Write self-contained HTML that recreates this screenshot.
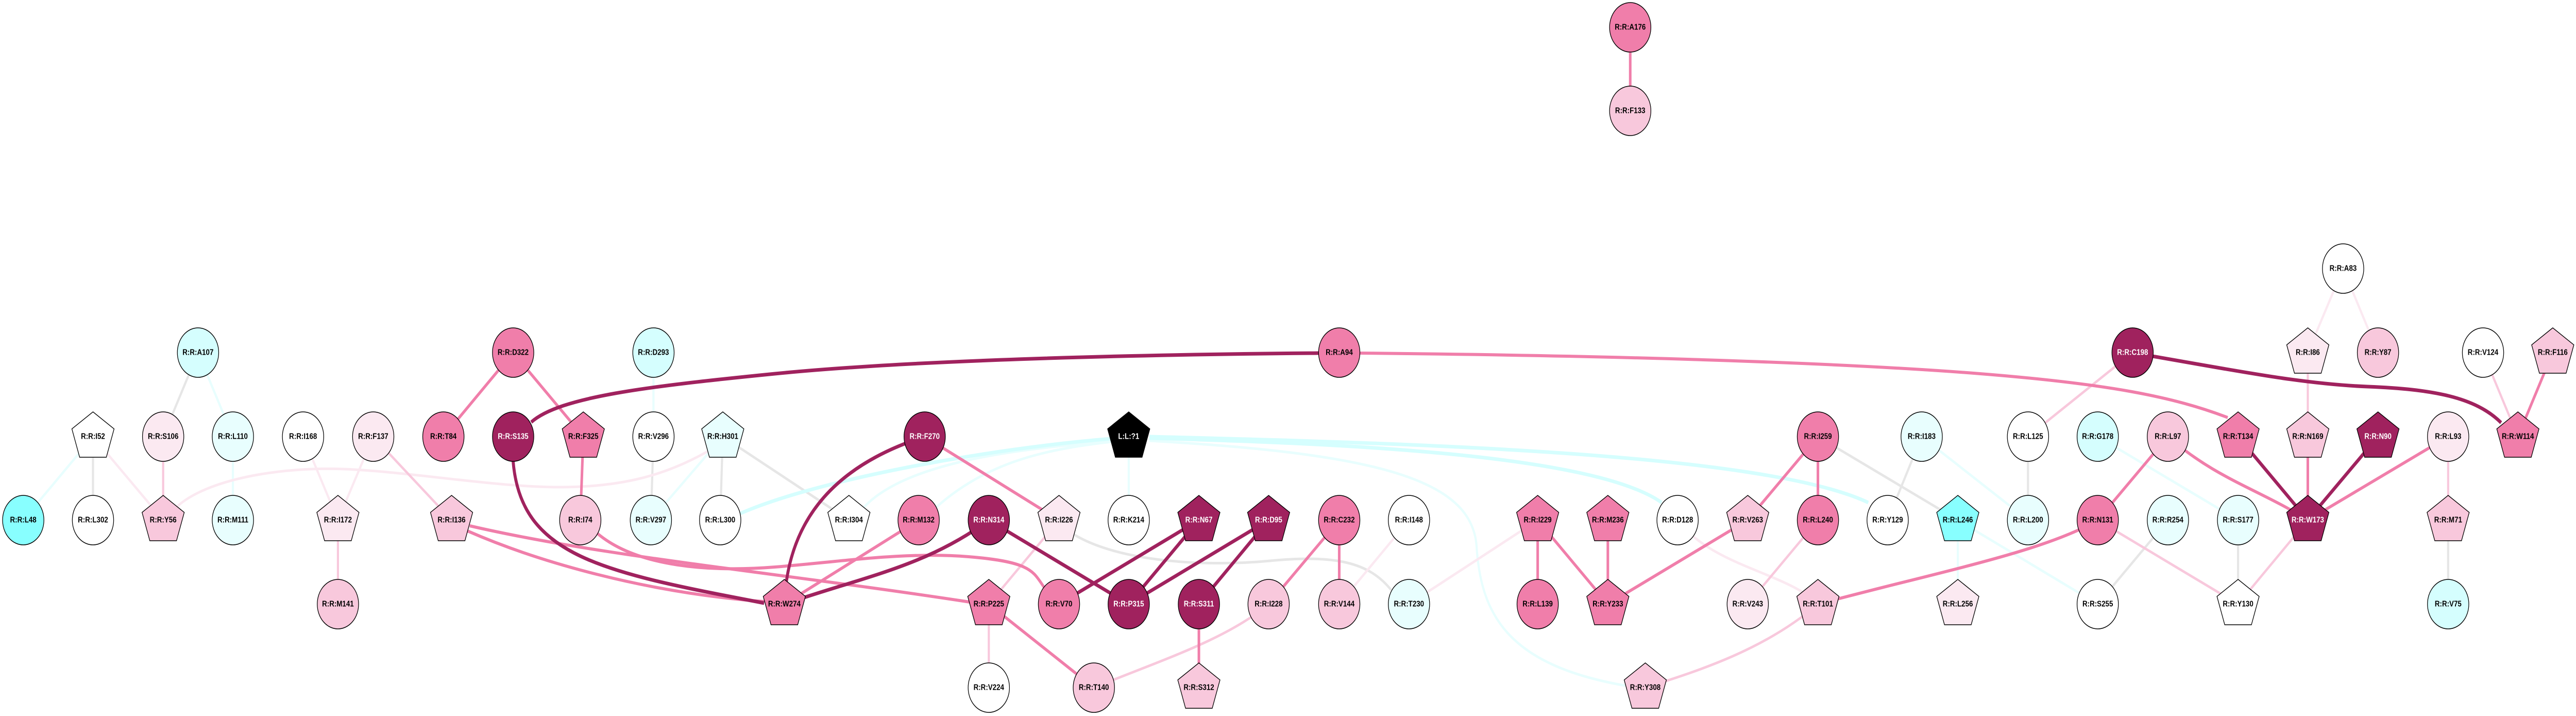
<!DOCTYPE html>
<html><head><meta charset="utf-8"><style>
html,body{margin:0;padding:0;background:#fff;width:100%;height:100%;overflow:hidden;}
svg{display:block;width:100vw;height:100vh;}
text{font-family:"Liberation Sans",sans-serif;font-weight:bold;font-size:16px;text-anchor:middle;dominant-baseline:central;}
</style></head><body>
<svg viewBox="0 0 5984 1389" preserveAspectRatio="none" xmlns="http://www.w3.org/2000/svg">
<defs>
<polygon id="pent" points="0,-48 49,-15 31,40 -31,40 -49,-15"/>
</defs>
<g fill="none" stroke-linecap="butt">
<g stroke="#E6E6E6" stroke-width="5">
<line x1="216" y1="847" x2="216" y2="1009"/>
<line x1="460" y1="684" x2="379" y2="847"/>
<line x1="1518" y1="847" x2="1512" y2="1009"/>
<line x1="1679" y1="847" x2="1673" y2="1009"/>
<line x1="1679" y1="847" x2="1972" y2="1009"/>
<line x1="4223" y1="847" x2="4548" y2="1009"/>
<line x1="4464" y1="847" x2="4385" y2="1009"/>
<line x1="4711" y1="847" x2="4711" y2="1009"/>
<line x1="5036" y1="1009" x2="4873" y2="1172"/>
<line x1="5199" y1="1009" x2="5199" y2="1172"/>
<line x1="5687" y1="1009" x2="5687" y2="1172"/>
<path d="M2495,1037 C2600,1090 2800,1100 2950,1088 S3180,1090 3232,1145"/>
</g>
<g stroke="#E8FEFE" stroke-width="5">
<line x1="216" y1="847" x2="54" y2="1009"/>
<line x1="460" y1="684" x2="541" y2="847"/>
<line x1="541" y1="847" x2="541" y2="1009"/>
<line x1="1518" y1="684" x2="1518" y2="847"/>
<line x1="1679" y1="847" x2="1512" y2="1009"/>
<line x1="2622" y1="847" x2="2622" y2="1009"/>
<line x1="4464" y1="847" x2="4711" y2="1009"/>
<line x1="4873" y1="847" x2="5199" y2="1009"/>
<line x1="4548" y1="1009" x2="4548" y2="1172"/>
<line x1="4548" y1="1009" x2="4873" y2="1172"/>
<path d="M2007,984 C2100,900 2350,870 2581,857"/>
<path d="M2175,984 C2300,890 2450,870 2581,857"/>
<path d="M2670,855 C3200,880 3420,930 3430,1060 S3500,1290 3775,1330"/>
</g>
<g stroke="#D5FEFE" stroke-width="7">
<path d="M1720,996 C1900,930 2300,870 2581,851"/>
<path d="M2670,850 C3100,860 3700,880 3860,975"/>
<path d="M2670,847 C3300,860 4100,880 4340,975"/>
</g>
<g stroke="#FBE9F1" stroke-width="5">
<line x1="216" y1="847" x2="379" y2="1009"/>
<line x1="704" y1="847" x2="785" y2="1009"/>
<line x1="867" y1="847" x2="785" y2="1009"/>
<line x1="3273" y1="1009" x2="3111" y2="1172"/>
<line x1="3273" y1="1172" x2="3572" y2="1009"/>
<path d="M3897,1009 C3980,1100 4150,1110 4223,1172"/>
<line x1="5443" y1="521" x2="5361" y2="684"/>
<line x1="5443" y1="521" x2="5524" y2="684"/>
<path d="M411,983 C480,930 650,905 800,910 S1150,945 1300,945 S1550,920 1643,876"/>
</g>
<g stroke="#F8C8DC" stroke-width="5">
<line x1="379" y1="847" x2="379" y2="1009"/>
<line x1="867" y1="847" x2="1049" y2="1009"/>
<line x1="785" y1="1009" x2="785" y2="1172"/>
<line x1="2460" y1="1009" x2="2297" y2="1172"/>
<line x1="2297" y1="1172" x2="2297" y2="1334"/>
<path d="M2947,1172 C2850,1240 2700,1280 2541,1334"/>
<line x1="4223" y1="1009" x2="4060" y2="1172"/>
<path d="M4223,1172 C4100,1260 3950,1300 3822,1334"/>
<line x1="4954" y1="684" x2="4711" y2="847"/>
<line x1="5361" y1="684" x2="5361" y2="847"/>
<line x1="5687" y1="847" x2="5687" y2="1009"/>
<line x1="5768" y1="684" x2="5849" y2="847"/>
<line x1="4873" y1="1009" x2="5199" y2="1172"/>
<line x1="5361" y1="1009" x2="5199" y2="1172"/>
</g>
<g stroke="#F07EAA" stroke-width="6">
<line x1="3787" y1="53" x2="3787" y2="215"/>
<line x1="1192" y1="684" x2="1030" y2="847"/>
<line x1="1192" y1="684" x2="1355" y2="847"/>
<line x1="1355" y1="847" x2="1348" y2="1009"/>
<line x1="2148" y1="847" x2="2460" y2="1009"/>
<line x1="2134" y1="1009" x2="1822" y2="1172"/>
<line x1="2297" y1="1172" x2="2541" y2="1334"/>
<line x1="2785" y1="1172" x2="2785" y2="1334"/>
<line x1="3111" y1="1009" x2="2947" y2="1172"/>
<line x1="3111" y1="1009" x2="3111" y2="1172"/>
<line x1="3572" y1="1009" x2="3572" y2="1172"/>
<line x1="3572" y1="1009" x2="3735" y2="1172"/>
<line x1="3735" y1="1009" x2="3735" y2="1172"/>
<line x1="4060" y1="1009" x2="3735" y2="1172"/>
<line x1="4223" y1="847" x2="4060" y2="1009"/>
<line x1="4223" y1="847" x2="4223" y2="1009"/>
<path d="M4223,1172 C4500,1110 4750,1070 4873,1009"/>
<line x1="5036" y1="847" x2="4873" y2="1009"/>
<path d="M5036,847 C5150,930 5250,950 5361,1009"/>
<line x1="5361" y1="847" x2="5361" y2="1009"/>
<line x1="5687" y1="847" x2="5361" y2="1009"/>
<line x1="5930" y1="684" x2="5849" y2="847"/>
<path d="M1091,1020 C1400,1080 1800,1110 2253,1168"/>
<path d="M1086,1030 C1250,1090 1500,1150 1775,1167"/>
<path d="M1388,1035 C1480,1100 1650,1110 1800,1100 S2100,1070 2250,1080 S2400,1110 2426,1140"/>
<path d="M3158,685 C3800,690 4300,705 4600,725 S5050,770 5175,810"/>
</g>
<g stroke="#A0225E" stroke-width="7">
<line x1="2297" y1="1009" x2="2622" y2="1172"/>
<path d="M2297,1009 C2150,1100 2000,1120 1822,1172"/>
<line x1="2785" y1="1009" x2="2460" y2="1172"/>
<line x1="2785" y1="1009" x2="2622" y2="1172"/>
<line x1="2947" y1="1009" x2="2622" y2="1172"/>
<line x1="2947" y1="1009" x2="2785" y2="1172"/>
<line x1="5199" y1="847" x2="5361" y2="1009"/>
<line x1="5524" y1="847" x2="5361" y2="1009"/>
<path d="M2148,847 C1950,900 1830,1000 1822,1172"/>
<path d="M1192,895 C1210,1080 1400,1110 1775,1170"/>
<path d="M1234,819 C1300,770 1500,750 1800,725 S2600,688 3063,685"/>
<path d="M5000,691 C5200,720 5350,745 5500,750 S5750,770 5810,820"/>
</g>
</g>
<g stroke="#000" stroke-width="1.5">
<circle cx="3787" cy="53" r="48" fill="#F07EAA"/><text x="3787" y="53" stroke="none">R:R:A176</text>
<circle cx="3787" cy="215" r="48" fill="#F8C8DC"/><text x="3787" y="215" stroke="none">R:R:F133</text>
<circle cx="5443" cy="521" r="48" fill="#FFFFFF"/><text x="5443" y="521" stroke="none">R:R:A83</text>
<use href="#pent" x="5361" y="684" fill="#FBE9F1"/><text x="5361" y="684" stroke="none">R:R:I86</text>
<circle cx="5524" cy="684" r="48" fill="#F8C8DC"/><text x="5524" y="684" stroke="none">R:R:Y87</text>
<circle cx="5768" cy="684" r="48" fill="#FFFFFF"/><text x="5768" y="684" stroke="none">R:R:V124</text>
<use href="#pent" x="5930" y="684" fill="#F8C8DC"/><text x="5930" y="684" stroke="none">R:R:F116</text>
<circle cx="4954" cy="684" r="48" fill="#A0225E"/><text x="4954" y="684" stroke="none" fill="#fff">R:R:C198</text>
<circle cx="460" cy="684" r="48" fill="#D5FEFE"/><text x="460" y="684" stroke="none">R:R:A107</text>
<circle cx="1192" cy="684" r="48" fill="#F07EAA"/><text x="1192" y="684" stroke="none">R:R:D322</text>
<circle cx="1518" cy="684" r="48" fill="#D5FEFE"/><text x="1518" y="684" stroke="none">R:R:D293</text>
<circle cx="3111" cy="684" r="48" fill="#F07EAA"/><text x="3111" y="684" stroke="none">R:R:A94</text>

<use href="#pent" x="216" y="847" fill="#FFFFFF"/><text x="216" y="847" stroke="none">R:R:I52</text>
<circle cx="379" cy="847" r="48" fill="#FBE9F1"/><text x="379" y="847" stroke="none">R:R:S106</text>
<circle cx="541" cy="847" r="48" fill="#E8FEFE"/><text x="541" y="847" stroke="none">R:R:L110</text>
<circle cx="704" cy="847" r="48" fill="#FFFFFF"/><text x="704" y="847" stroke="none">R:R:I168</text>
<circle cx="867" cy="847" r="48" fill="#FBE9F1"/><text x="867" y="847" stroke="none">R:R:F137</text>
<circle cx="1030" cy="847" r="48" fill="#F07EAA"/><text x="1030" y="847" stroke="none">R:R:T84</text>
<circle cx="1192" cy="847" r="48" fill="#A0225E"/><text x="1192" y="847" stroke="none" fill="#fff">R:R:S135</text>
<use href="#pent" x="1355" y="847" fill="#F07EAA"/><text x="1355" y="847" stroke="none">R:R:F325</text>
<circle cx="1518" cy="847" r="48" fill="#FFFFFF"/><text x="1518" y="847" stroke="none">R:R:V296</text>
<use href="#pent" x="1679" y="847" fill="#E8FEFE"/><text x="1679" y="847" stroke="none">R:R:H301</text>
<circle cx="2148" cy="847" r="48" fill="#A0225E"/><text x="2148" y="847" stroke="none" fill="#fff">R:R:F270</text>
<use href="#pent" x="2622" y="847" fill="#000000"/><text x="2622" y="847" stroke="none" fill="#fff">L:L:?1</text>
<circle cx="4223" cy="847" r="48" fill="#F07EAA"/><text x="4223" y="847" stroke="none">R:R:I259</text>
<circle cx="4464" cy="847" r="48" fill="#E8FEFE"/><text x="4464" y="847" stroke="none">R:R:I183</text>
<circle cx="4711" cy="847" r="48" fill="#FFFFFF"/><text x="4711" y="847" stroke="none">R:R:L125</text>
<circle cx="4873" cy="847" r="48" fill="#D5FEFE"/><text x="4873" y="847" stroke="none">R:R:G178</text>
<circle cx="5036" cy="847" r="48" fill="#F8C8DC"/><text x="5036" y="847" stroke="none">R:R:L97</text>
<use href="#pent" x="5199" y="847" fill="#F07EAA"/><text x="5199" y="847" stroke="none">R:R:T134</text>
<use href="#pent" x="5361" y="847" fill="#F8C8DC"/><text x="5361" y="847" stroke="none">R:R:N169</text>
<use href="#pent" x="5524" y="847" fill="#A0225E"/><text x="5524" y="847" stroke="none" fill="#fff">R:R:N90</text>
<circle cx="5687" cy="847" r="48" fill="#FBE9F1"/><text x="5687" y="847" stroke="none">R:R:L93</text>
<use href="#pent" x="5849" y="847" fill="#F07EAA"/><text x="5849" y="847" stroke="none">R:R:W114</text>

<circle cx="54" cy="1009" r="48" fill="#88FFFF"/><text x="54" y="1009" stroke="none">R:R:L48</text>
<circle cx="216" cy="1009" r="48" fill="#FFFFFF"/><text x="216" y="1009" stroke="none">R:R:L302</text>
<use href="#pent" x="379" y="1009" fill="#F8C8DC"/><text x="379" y="1009" stroke="none">R:R:Y56</text>
<circle cx="541" cy="1009" r="48" fill="#E8FEFE"/><text x="541" y="1009" stroke="none">R:R:M111</text>
<use href="#pent" x="785" y="1009" fill="#FBE9F1"/><text x="785" y="1009" stroke="none">R:R:I172</text>
<use href="#pent" x="1049" y="1009" fill="#F8C8DC"/><text x="1049" y="1009" stroke="none">R:R:I136</text>
<circle cx="1348" cy="1009" r="48" fill="#F8C8DC"/><text x="1348" y="1009" stroke="none">R:R:I74</text>
<circle cx="1512" cy="1009" r="48" fill="#E8FEFE"/><text x="1512" y="1009" stroke="none">R:R:V297</text>
<circle cx="1673" cy="1009" r="48" fill="#FFFFFF"/><text x="1673" y="1009" stroke="none">R:R:L300</text>
<use href="#pent" x="1972" y="1009" fill="#FFFFFF"/><text x="1972" y="1009" stroke="none">R:R:I304</text>
<circle cx="2134" cy="1009" r="48" fill="#F07EAA"/><text x="2134" y="1009" stroke="none">R:R:M132</text>
<circle cx="2297" cy="1009" r="48" fill="#A0225E"/><text x="2297" y="1009" stroke="none" fill="#fff">R:R:N314</text>
<use href="#pent" x="2460" y="1009" fill="#FBE9F1"/><text x="2460" y="1009" stroke="none">R:R:I226</text>
<circle cx="2622" cy="1009" r="48" fill="#FFFFFF"/><text x="2622" y="1009" stroke="none">R:R:K214</text>
<use href="#pent" x="2785" y="1009" fill="#A0225E"/><text x="2785" y="1009" stroke="none" fill="#fff">R:R:N67</text>
<use href="#pent" x="2947" y="1009" fill="#A0225E"/><text x="2947" y="1009" stroke="none" fill="#fff">R:R:D95</text>
<circle cx="3111" cy="1009" r="48" fill="#F07EAA"/><text x="3111" y="1009" stroke="none">R:R:C232</text>
<circle cx="3273" cy="1009" r="48" fill="#FFFFFF"/><text x="3273" y="1009" stroke="none">R:R:I148</text>
<use href="#pent" x="3572" y="1009" fill="#F07EAA"/><text x="3572" y="1009" stroke="none">R:R:I229</text>
<use href="#pent" x="3735" y="1009" fill="#F07EAA"/><text x="3735" y="1009" stroke="none">R:R:M236</text>
<circle cx="3897" cy="1009" r="48" fill="#FFFFFF"/><text x="3897" y="1009" stroke="none">R:R:D128</text>
<use href="#pent" x="4060" y="1009" fill="#F8C8DC"/><text x="4060" y="1009" stroke="none">R:R:V263</text>
<circle cx="4223" cy="1009" r="48" fill="#F07EAA"/><text x="4223" y="1009" stroke="none">R:R:L240</text>
<circle cx="4385" cy="1009" r="48" fill="#FFFFFF"/><text x="4385" y="1009" stroke="none">R:R:Y129</text>
<use href="#pent" x="4548" y="1009" fill="#88FFFF"/><text x="4548" y="1009" stroke="none">R:R:L246</text>
<circle cx="4711" cy="1009" r="48" fill="#E8FEFE"/><text x="4711" y="1009" stroke="none">R:R:L200</text>
<circle cx="4873" cy="1009" r="48" fill="#F07EAA"/><text x="4873" y="1009" stroke="none">R:R:N131</text>
<circle cx="5036" cy="1009" r="48" fill="#E8FEFE"/><text x="5036" y="1009" stroke="none">R:R:R254</text>
<circle cx="5199" cy="1009" r="48" fill="#E8FEFE"/><text x="5199" y="1009" stroke="none">R:R:S177</text>
<use href="#pent" x="5361" y="1009" fill="#A0225E"/><text x="5361" y="1009" stroke="none" fill="#fff">R:R:W173</text>
<use href="#pent" x="5687" y="1009" fill="#F8C8DC"/><text x="5687" y="1009" stroke="none">R:R:M71</text>

<circle cx="785" cy="1172" r="48" fill="#F8C8DC"/><text x="785" y="1172" stroke="none">R:R:M141</text>
<use href="#pent" x="1822" y="1172" fill="#F07EAA"/><text x="1822" y="1172" stroke="none">R:R:W274</text>
<use href="#pent" x="2297" y="1172" fill="#F07EAA"/><text x="2297" y="1172" stroke="none">R:R:P225</text>
<circle cx="2460" cy="1172" r="48" fill="#F07EAA"/><text x="2460" y="1172" stroke="none">R:R:V70</text>
<circle cx="2622" cy="1172" r="48" fill="#A0225E"/><text x="2622" y="1172" stroke="none" fill="#fff">R:R:P315</text>
<circle cx="2785" cy="1172" r="48" fill="#A0225E"/><text x="2785" y="1172" stroke="none" fill="#fff">R:R:S311</text>
<circle cx="2947" cy="1172" r="48" fill="#F8C8DC"/><text x="2947" y="1172" stroke="none">R:R:I228</text>
<circle cx="3111" cy="1172" r="48" fill="#F8C8DC"/><text x="3111" y="1172" stroke="none">R:R:V144</text>
<circle cx="3273" cy="1172" r="48" fill="#E8FEFE"/><text x="3273" y="1172" stroke="none">R:R:T230</text>
<circle cx="3572" cy="1172" r="48" fill="#F07EAA"/><text x="3572" y="1172" stroke="none">R:R:L139</text>
<use href="#pent" x="3735" y="1172" fill="#F07EAA"/><text x="3735" y="1172" stroke="none">R:R:Y233</text>
<circle cx="4060" cy="1172" r="48" fill="#FBE9F1"/><text x="4060" y="1172" stroke="none">R:R:V243</text>
<use href="#pent" x="4223" y="1172" fill="#F8C8DC"/><text x="4223" y="1172" stroke="none">R:R:T101</text>
<use href="#pent" x="4548" y="1172" fill="#FBE9F1"/><text x="4548" y="1172" stroke="none">R:R:L256</text>
<circle cx="4873" cy="1172" r="48" fill="#FFFFFF"/><text x="4873" y="1172" stroke="none">R:R:S255</text>
<use href="#pent" x="5199" y="1172" fill="#FFFFFF"/><text x="5199" y="1172" stroke="none">R:R:Y130</text>
<circle cx="5687" cy="1172" r="48" fill="#D5FEFE"/><text x="5687" y="1172" stroke="none">R:R:V75</text>

<circle cx="2297" cy="1334" r="48" fill="#FFFFFF"/><text x="2297" y="1334" stroke="none">R:R:V224</text>
<circle cx="2541" cy="1334" r="48" fill="#F8C8DC"/><text x="2541" y="1334" stroke="none">R:R:T140</text>
<use href="#pent" x="2785" y="1334" fill="#F8C8DC"/><text x="2785" y="1334" stroke="none">R:R:S312</text>
<use href="#pent" x="3822" y="1334" fill="#F8C8DC"/><text x="3822" y="1334" stroke="none">R:R:Y308</text>
</g>
</svg>
</body></html>
